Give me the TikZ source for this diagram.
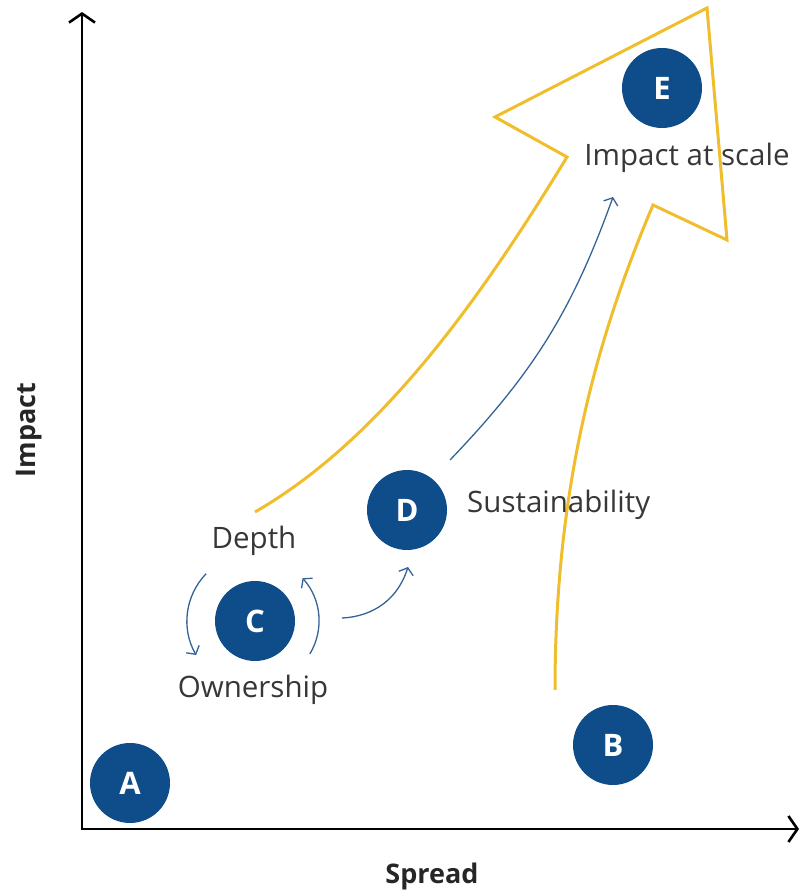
\documentclass[tikz,border=0pt]{standalone}
\usepackage{fontspec}
\setmainfont{Open Sans}
\usetikzlibrary{arrows.meta,positioning}

\definecolor{stageblue}{RGB}{14,76,138}
\definecolor{flowblue}{RGB}{52,100,150}
\definecolor{scalegold}{RGB}{240,190,44}
\definecolor{labelgray}{RGB}{55,55,55}

\begin{document}
\begin{tikzpicture}[
  x=1pt, y=1pt,
  font=\fontsize{29.5}{32}\selectfont,
  stage/.style={circle, fill=stageblue, text=white, minimum size=80pt, inner sep=0pt, font=\fontsize{31}{32}\selectfont\bfseries},
  lab/.style={text=labelgray, inner sep=0pt},
  axislab/.style={text=black!85, inner sep=0pt, font=\fontsize{27}{30}\selectfont\bfseries},
  axis/.style={line width=2.6pt, {Straight Barb[length=9pt, width=26pt]}-{Straight Barb[length=9pt, width=26pt]}},
  flow/.style={draw=flowblue, line width=1.3pt, -{Straight Barb[length=6pt, width=15pt]}},
  outline/.style={draw=scalegold, line width=3pt, line join=miter}
]
\useasboundingbox (0,0) rectangle (809,893);

% Axes
\coordinate (origin) at (82,64);
\coordinate (ytop) at (82,881);
\coordinate (xend) at (799,64);
\draw[axis] (ytop) -- (origin) -- (xend);
\node[axislab, rotate=90] (impact) at (29,463) {Impact};
\node[axislab] (spread) at (432,17) {Spread};

% Big arrow towards scale
\draw[outline] (255,381) .. controls (380,453) and (480,593) .. (567,736)
  -- (495,776) -- (707,885) -- (727,653) -- (653,688)
  .. controls (600,563) and (555,413) .. (555,203);

% Stages
\node[stage] (A) at (130,110) {A};
\node[stage] (B) at (613,148) {B};
\node[stage] (C) at (255,272) {C};
\node[stage] (D) at (407,383) {D};
\node[stage] (E) at (662,805) {E};

% Labels
\node[lab] (depth) at (254,352) {Depth};
\node[lab] (owner) at (253,203) {Ownership};
\node[lab, anchor=west] (sustain) at (467,388) {Sustainability};
\node[lab] (scale) at (687,735) {Impact at scale};

% Loop round C
\draw[flow] ([shift={(136:68)}]C.center) arc[start angle=136, end angle=210, radius=68];
\draw[flow] ([shift={(-31:64)}]C.center) arc[start angle=-31, end angle=42, radius=64];

% Flow C -> D -> E
\coordinate (c1) at (342,275);
\coordinate (d0) at (408,326);
\draw[flow] (c1) to[bend right=35] (d0);
\coordinate (d1) at (450,433);
\coordinate (e0) at (613,696);
\draw[flow] (d1) to[bend right=12] (e0);

\end{tikzpicture}
\end{document}
